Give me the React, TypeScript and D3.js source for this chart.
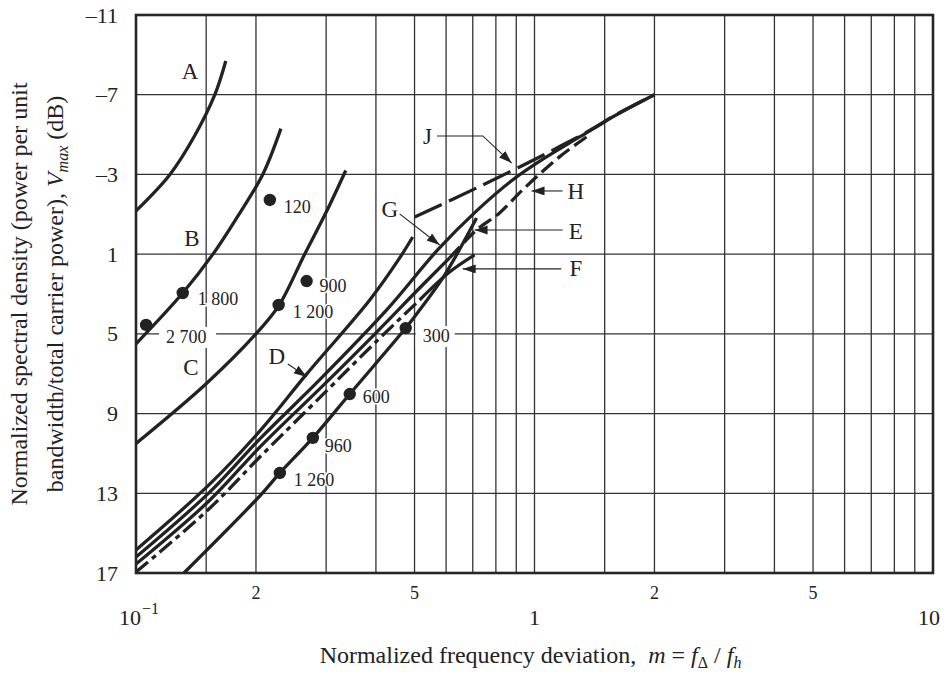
import React from "react";
import * as d3 from "d3";

const WIDTH = 950;
const HEIGHT = 686;
const margin = { top: 15, right: 17, bottom: 113, left: 136 };

// curves, [m, Vmax dB]
const curveA = [[0.1, -1.17], [0.1217, -3], [0.14, -4.9], [0.1577, -7], [0.168, -8.69]];
const curveB = [[0.1, 5.5], [0.131, 2.95], [0.156, 1], [0.18, -0.9], [0.208, -3], [0.231, -5.3]];
const curveC = [[0.1, 10.5], [0.15, 7.5], [0.2, 5], [0.228, 3.6], [0.265, 1], [0.3, -1.1], [0.336, -3.2]];
const curveD = [[0.1, 15.84], [0.1524, 12.58], [0.2057, 9.82], [0.2683, 7.01], [0.386, 3.3], [0.4589, 1.19], [0.4946, 0.14]];
const curveG = [[0.1, 16.2], [0.1524, 12.98], [0.2057, 10.22], [0.2892, 7.3], [0.4256, 3.8], [0.5713, 0.79], [0.7154, -1.17], [0.8809, -2.72], [1.072, -3.88], [1.297, -4.88], [1.569, -5.88], [2.0, -7.0]];
const curveH = [[0.1, 16.55], [0.1524, 13.39], [0.2057, 10.63], [0.2994, 7.46], [0.3996, 4.96], [0.5149, 2.7], [0.6123, 1.19], [0.7154, -0.21], [0.8172, -1.07], [0.9331, -2.22], [1.155, -3.88], [1.373, -4.98]];
const curveF = [[0.1, 16.95], [0.1524, 13.79], [0.2057, 11.13], [0.2994, 7.9], [0.3996, 5.41], [0.5149, 3.3], [0.6123, 1.9], [0.7074, 1.04]];
const curveE = [[0.1319, 17], [0.2057, 13.08], [0.2296, 11.98], [0.2778, 10.22], [0.3439, 8.02], [0.4751, 4.71], [0.5149, 3.8], [0.5949, 2.05], [0.7154, -0.81]];
const curveJ = [[0.5004, -0.86], [0.7154, -2.32], [1.09, -4.13], [1.455, -5.48], [1.569, -5.9], [2.0, -7.0]];

// numbered points
const dotNames = ["120", "1 800", "2 700", "900", "1 200", "300", "600", "960", "1 260"];
const dotM = [0.2167, 0.131, 0.106, 0.268, 0.228, 0.4751, 0.3439, 0.2778, 0.2296];
const dotV = [-1.72, 2.95, 4.55, 2.35, 3.55, 4.71, 8.02, 10.22, 11.98];

// curve letters
const letterNames = ["A", "B", "C", "D", "G", "J", "H", "E", "F"];
const letterM = [0.1366, 0.1381, 0.1374, 0.2257, 0.4332, 0.5389, 1.27, 1.27, 1.27];
const letterV = [-8.14, 0.19, 6.71, 6.16, -1.22, -4.88, -2.12, -0.16, 1.74];

// leader lines, last point is the arrow tip
const leaders = [
  [[0.2405, 6.51], [0.2683, 7.16]],
  [[0.4588, -1.02], [0.5781, 0.54]],
  [[0.5693, -4.93], [0.7417, -4.93], [0.8763, -3.57]],
  [[1.176, -2.17], [0.983, -2.17]],
  [[1.176, -0.21], [0.7074, -0.21]],
  [[1.167, 1.74], [0.6604, 1.74]],
];

const yTicks = [-11, -7, -3, 1, 5, 9, 13, 17];
const gridX = [0.1, 0.15, 0.2, 0.3, 0.4, 0.5, 0.6, 0.7, 0.8, 0.9, 1, 1.5, 2, 3, 4, 5, 6, 7, 8, 9, 10];
const minorLabels = [[0.2, "2"], [0.5, "5"], [2, "2"], [5, "5"]];

// label offsets in px from each dot (dx, dy, white box)
const dotLabelPos = [
  { dx: 14, dy: 13 },
  { dx: 15, dy: 12 },
  { dx: 20, dy: 18, box: true },
  { dx: 13, dy: 11 },
  { dx: 14, dy: 13 },
  { dx: 17, dy: 14, box: true },
  { dx: 13, dy: 9 },
  { dx: 12, dy: 14 },
  { dx: 14, dy: 13 },
];

const INK = "#222";

export default function App() {
  const x = d3.scaleLog().domain([0.1, 10]).range([margin.left, WIDTH - margin.right]);
  const y = d3.scaleLinear().domain([-11, 17]).range([margin.top, HEIGHT - margin.bottom]);
  const line = d3
    .line<number[]>()
    .x((d) => x(d[0]))
    .y((d) => y(d[1]))
    .curve(d3.curveCatmullRom.alpha(0.5));
  const straight = d3
    .line<number[]>()
    .x((d) => x(d[0]))
    .y((d) => y(d[1]));

  const paths = [
    { pts: curveA, dash: null },
    { pts: curveB, dash: null },
    { pts: curveC, dash: null },
    { pts: curveD, dash: null },
    { pts: curveG, dash: null },
    { pts: curveH.slice(0, 7), dash: null },
    { pts: curveH.slice(6), dash: "15,6" },
    { pts: curveF.slice(0, 6), dash: "16,5,5,5" },
    { pts: curveF.slice(5), dash: null },
    { pts: curveE, dash: null },
    { pts: curveJ, dash: "30,8" },
  ];

  const fs = "'Liberation Serif', 'Times New Roman', serif";
  const plotW = WIDTH - margin.left - margin.right;
  const plotH = HEIGHT - margin.top - margin.bottom;
  const cy = margin.top + plotH / 2;

  return (
    <svg
      width={WIDTH}
      height={HEIGHT}
      style={{ position: "absolute", left: 0, top: 0, background: "#fff" }}
      fontFamily={fs}
    >
      <defs>
        <marker id="arr" markerUnits="userSpaceOnUse" markerWidth="14" markerHeight="10" refX="13" refY="4.5" orient="auto">
          <path d="M0,0 L13,4.5 L0,9 z" fill={INK} />
        </marker>
      </defs>

      {/* grid */}
      {gridX.map((g) => (
        <line key={"gx" + g} x1={x(g)} x2={x(g)} y1={margin.top} y2={margin.top + plotH} stroke="#333" strokeWidth={1.3} />
      ))}
      {yTicks.map((t) => (
        <line key={"gy" + t} x1={margin.left} x2={margin.left + plotW} y1={y(t)} y2={y(t)} stroke="#333" strokeWidth={1.3} />
      ))}

      {/* white boxes behind some labels */}
      {dotNames.map((n, i) =>
        dotLabelPos[i].box ? (
          <rect
            key={"bx" + i}
            x={x(dotM[i]) + dotLabelPos[i].dx - 7}
            y={y(dotV[i]) + dotLabelPos[i].dy - 16}
            width={n.length * 9 + 12}
            height={21}
            fill="#fff"
          />
        ) : null
      )}

      {/* curves */}
      {paths.map((p, i) => (
        <path
          key={"c" + i}
          d={line(p.pts) || ""}
          fill="none"
          stroke={INK}
          strokeWidth={3.3}
          strokeDasharray={p.dash || undefined}
          strokeLinecap="butt"
        />
      ))}

      {/* dots and labels */}
      {dotNames.map((n, i) => (
        <g key={"d" + i}>
          <circle cx={x(dotM[i])} cy={y(dotV[i])} r={6.2} fill={INK} />
          <text
            x={x(dotM[i]) + dotLabelPos[i].dx}
            y={y(dotV[i]) + dotLabelPos[i].dy}
            fontSize={18}
            fill={INK}
            stroke="#fff"
            strokeWidth={dotLabelPos[i].box ? 0 : 3}
            paintOrder="stroke"
            style={{ whiteSpace: "pre" }}
          >
            {n}
          </text>
        </g>
      ))}

      {/* leaders */}
      {leaders.map((l, i) => (
        <path key={"l" + i} d={straight(l) || ""} fill="none" stroke={INK} strokeWidth={1.1} markerEnd="url(#arr)" />
      ))}
      {letterNames.map((n, i) => (
        <text
          key={"t" + n}
          x={x(letterM[i])}
          y={y(letterV[i])}
          fontSize={23}
          textAnchor="middle"
          dominantBaseline="central"
          fill={INK}
        >
          {n}
        </text>
      ))}

      {/* frame */}
      <rect x={margin.left} y={margin.top} width={plotW} height={plotH} fill="none" stroke="#262626" strokeWidth={2.6} />

      {/* y tick labels */}
      {yTicks.map((t) => (
        <text key={"yt" + t} x={margin.left - 18} y={y(t) + 7.5} fontSize={22} textAnchor="end" fill={INK}>
          {t < 0 ? "\u2013" + Math.abs(t) : t}
        </text>
      ))}

      {/* x tick labels */}
      {minorLabels.map(([v, s]) => (
        <text key={"xm" + v} x={x(v as number)} y={599} fontSize={18} textAnchor="middle" fill={INK}>
          {s}
        </text>
      ))}
      <text x={x(0.1) - 17} y={625} fontSize={22} fill={INK}>
        10
        <tspan dx={1} dy={-11} fontSize={16}>{"\u22121"}</tspan>
      </text>
      <text x={x(1)} y={625} fontSize={22} textAnchor="middle" fill={INK}>
        1
      </text>
      <text x={x(10) - 4} y={625} fontSize={22} textAnchor="middle" fill={INK}>
        10
      </text>

      {/* axis titles */}
      <text x={margin.left + plotW / 2 - 4} y={663} fontSize={24} textAnchor="middle" fill={INK} style={{ whiteSpace: "pre" }}>
        {"Normalized frequency deviation,  "}
        <tspan fontStyle="italic">m</tspan>
        {" = "}
        <tspan fontStyle="italic">f</tspan>
        <tspan dy={5} fontSize={16}>{"\u0394"}</tspan>
        <tspan dy={-5}>{" / "}</tspan>
        <tspan fontStyle="italic">f</tspan>
        <tspan dy={5} fontSize={16} fontStyle="italic">h</tspan>
      </text>
      <text transform={`translate(27,${cy}) rotate(-90)`} fontSize={24} textAnchor="middle" fill={INK}>
        Normalized spectral density (power per unit
      </text>
      <text transform={`translate(63,${cy}) rotate(-90)`} fontSize={24} textAnchor="middle" fill={INK}>
        {"bandwidth/total carrier power), "}
        <tspan fontStyle="italic">V</tspan>
        <tspan dy={5} fontSize={16} fontStyle="italic">max</tspan>
        <tspan dy={-5}>{" (dB)"}</tspan>
      </text>
    </svg>
  );
}
